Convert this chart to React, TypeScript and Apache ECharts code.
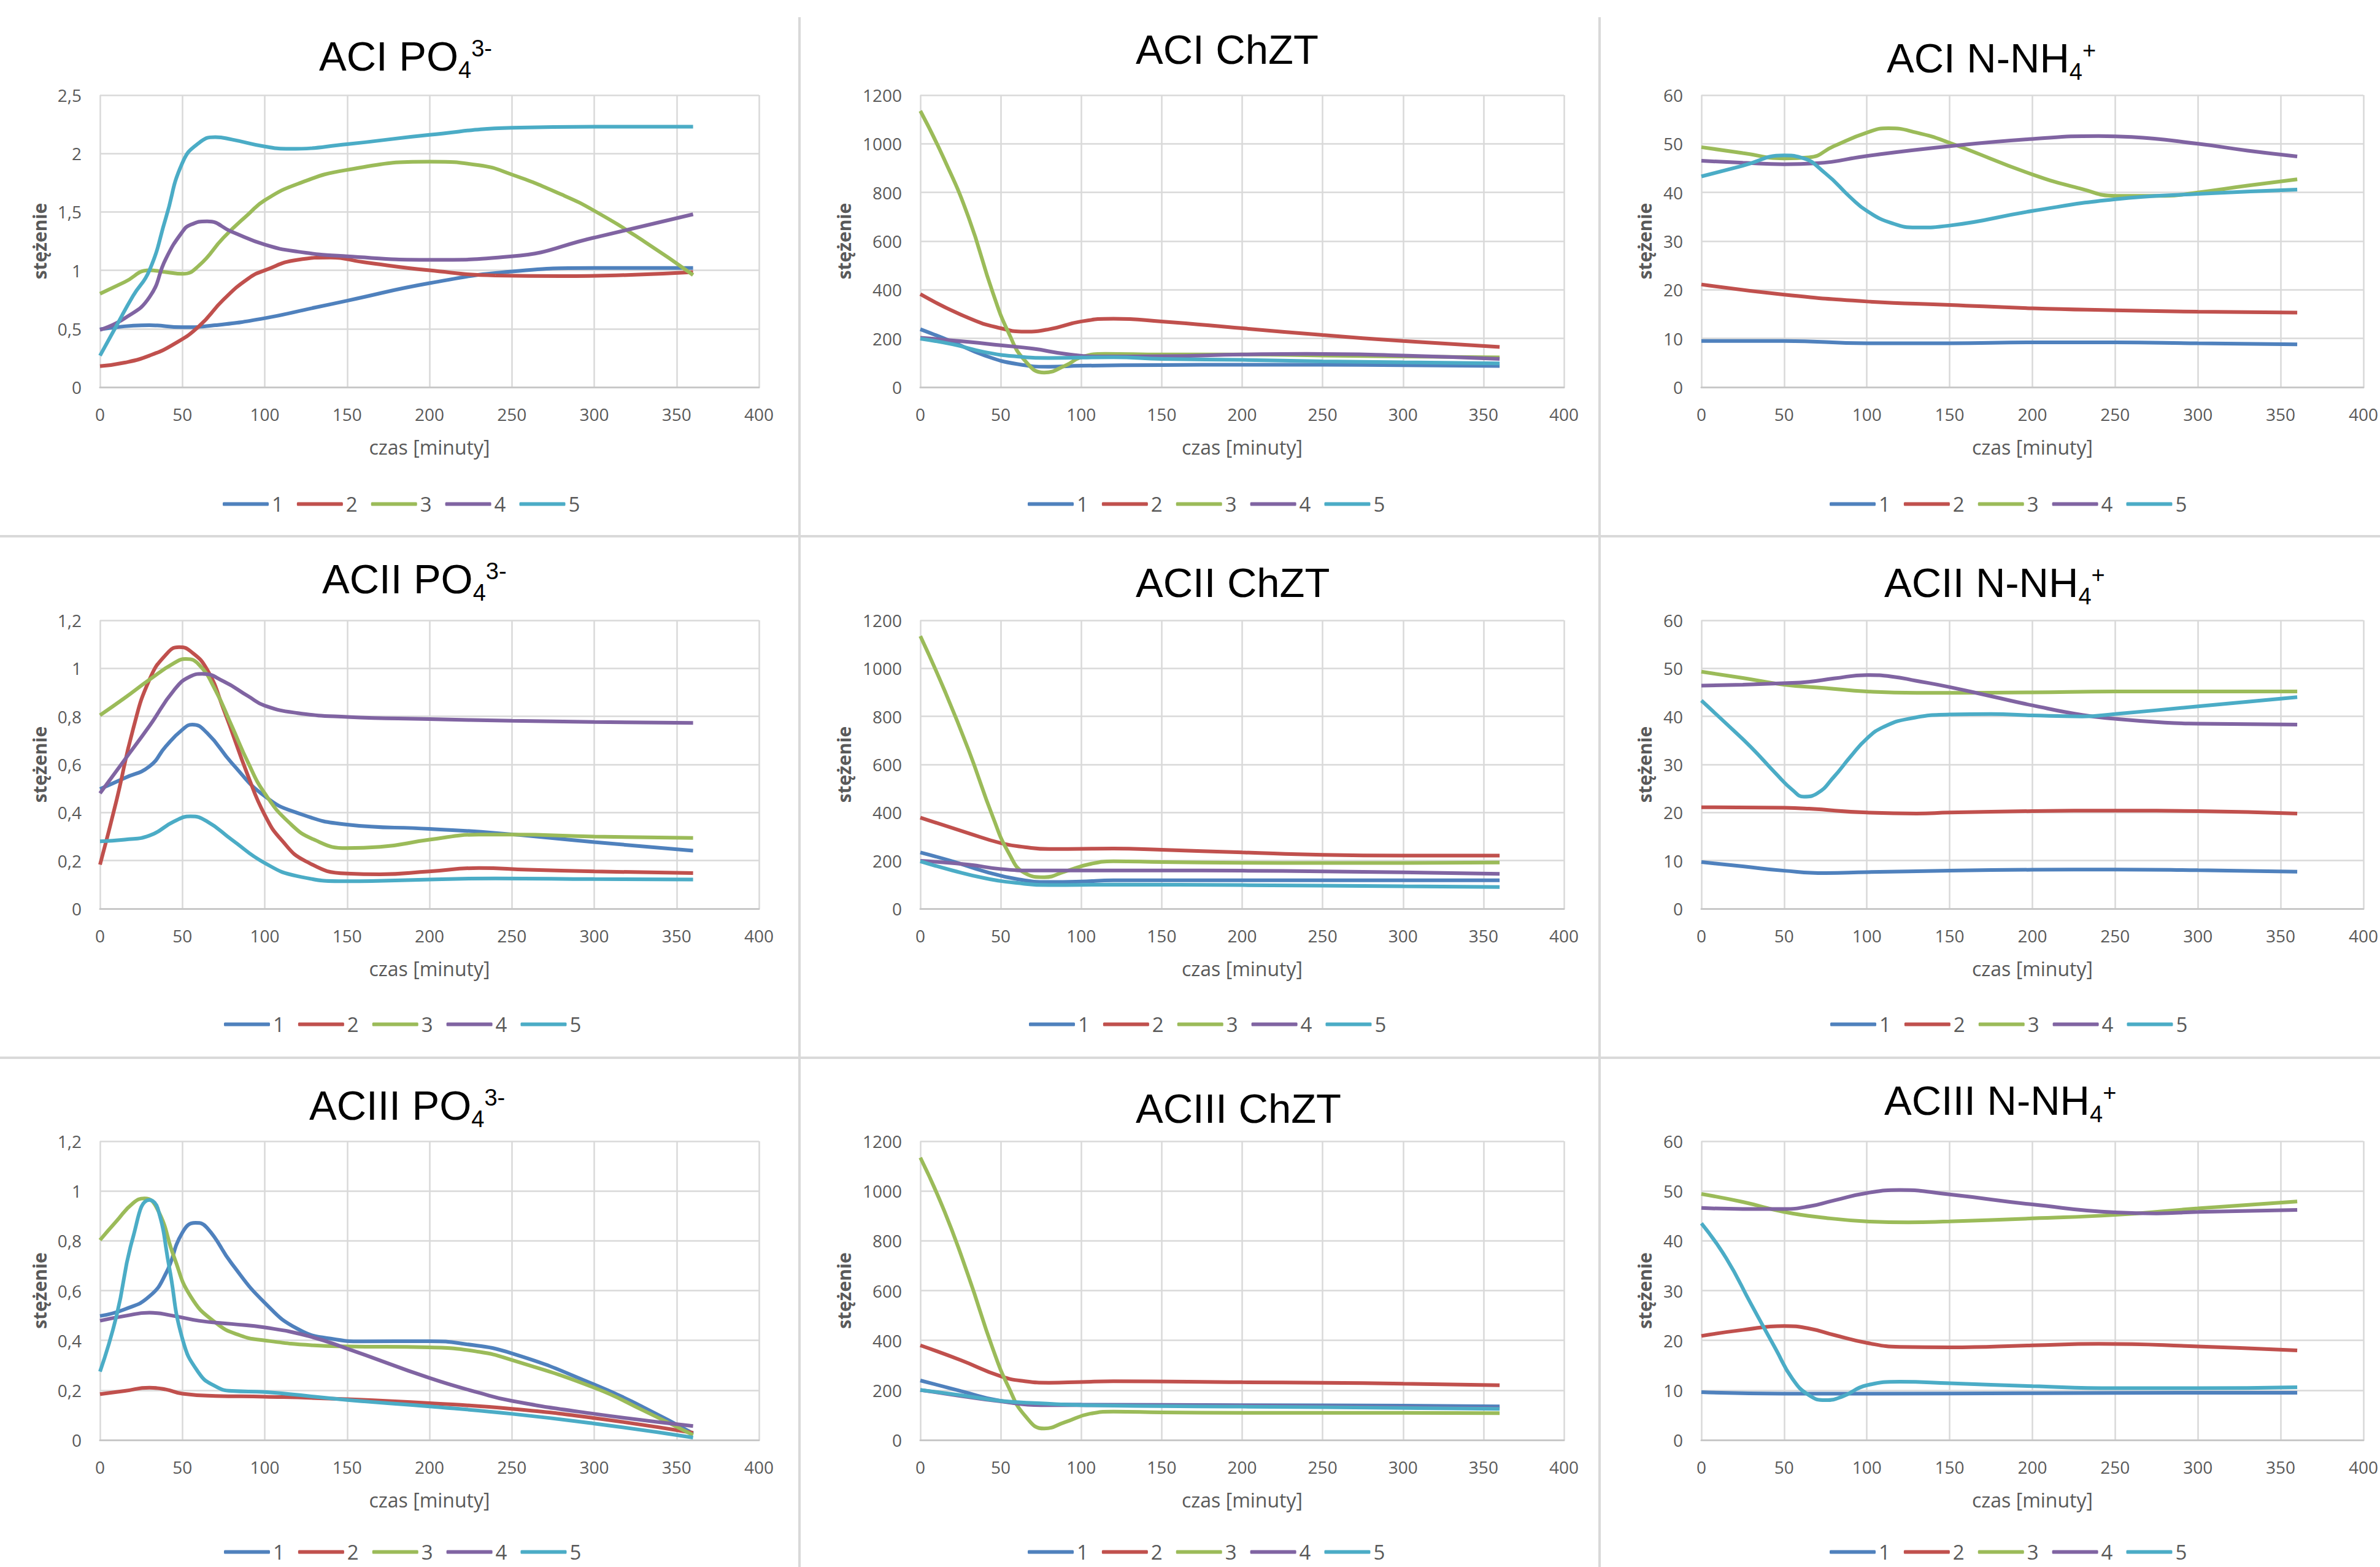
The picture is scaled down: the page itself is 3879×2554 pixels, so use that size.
import React, { useEffect, useRef } from 'react';
import * as echarts from 'echarts';

const W = 3879;
const H = 2554;
const FONT = '"Open Sans", sans-serif';
const TITLE_FONT = '"Liberation Sans", Arial, sans-serif';
const COLORS = ['#4F81BD', '#C0504D', '#9BBB59', '#8064A2', '#4BACC6'];
const SERIES_NAMES = ['1', '2', '3', '4', '5'];
const X_NAME = 'czas [minuty]';
const Y_NAME = 'stężenie';
const X_MIN = 0;
const X_MAX = 400;
const X_STEP = 50;

// ---------- ACI ----------
const ACI_PO4_1 = [[0, 0.495], [30, 0.53], [50, 0.513], [70, 0.53], [100, 0.59], [130, 0.68], [150, 0.74], [200, 0.89], [250, 0.99], [300, 1.02], [360, 1.02]];
const ACI_PO4_2 = [[0, 0.18], [15, 0.21], [30, 0.27], [45, 0.37], [60, 0.52], [75, 0.75], [90, 0.93], [100, 1.0], [120, 1.09], [140, 1.11], [160, 1.07], [200, 1.0], [240, 0.956], [280, 0.95], [320, 0.96], [360, 0.985]];
const ACI_PO4_3 = [[0, 0.8], [15, 0.9], [30, 1.0], [40, 0.985], [50, 0.97], [60, 1.04], [75, 1.28], [90, 1.48], [100, 1.6], [120, 1.74], [150, 1.86], [200, 1.93], [230, 1.9], [250, 1.82], [280, 1.65], [300, 1.51], [330, 1.25], [360, 0.96]];
const ACI_PO4_4 = [[0, 0.49], [15, 0.59], [30, 0.77], [40, 1.1], [50, 1.33], [55, 1.39], [65, 1.42], [80, 1.33], [100, 1.22], [120, 1.16], [150, 1.12], [200, 1.09], [250, 1.12], [300, 1.28], [360, 1.48]];
const ACI_PO4_5 = [[0, 0.27], [9, 0.5], [20, 0.78], [30, 1.0], [40, 1.45], [50, 1.92], [60, 2.09], [70, 2.14], [80, 2.12], [100, 2.06], [115, 2.04], [150, 2.08], [200, 2.16], [250, 2.22], [300, 2.23], [360, 2.23]];

const ACI_CHZT_1 = [[0, 238], [20, 186], [40, 130], [60, 95], [80, 84], [100, 88], [150, 91], [200, 92], [250, 92], [300, 90], [360, 87]];
const ACI_CHZT_2 = [[0, 382], [30, 284], [50, 242], [65, 228], [80, 238], [100, 270], [120, 281], [150, 270], [200, 242], [250, 214], [300, 190], [360, 165]];
const ACI_CHZT_3 = [[0, 1135], [15, 934], [30, 697], [45, 389], [55, 221], [65, 109], [77, 60], [90, 88], [100, 123], [115, 137], [150, 134], [200, 134], [250, 130], [300, 126], [360, 122]];
const ACI_CHZT_4 = [[0, 203], [30, 186], [50, 172], [70, 158], [90, 137], [110, 126], [150, 127], [200, 134], [240, 137], [300, 130], [360, 116]];
const ACI_CHZT_5 = [[0, 199], [20, 176], [40, 144], [60, 126], [80, 120], [120, 123], [150, 116], [200, 112], [250, 106], [300, 102], [360, 98]];

const ACI_NH4_1 = [[0, 9.5], [50, 9.5], [100, 9.0], [150, 9.0], [200, 9.2], [250, 9.2], [300, 9.0], [360, 8.8]];
const ACI_NH4_2 = [[0, 21.1], [50, 19.0], [100, 17.6], [150, 16.9], [200, 16.2], [250, 15.8], [300, 15.5], [360, 15.3]];
const ACI_NH4_3 = [[0, 49.3], [25, 48.1], [50, 47.0], [65, 47.2], [80, 49.5], [100, 52.3], [113, 53.2], [130, 52.3], [150, 50.2], [200, 43.7], [230, 40.7], [250, 39.3], [280, 39.3], [300, 40.0], [330, 41.4], [360, 42.7]];
const ACI_NH4_4 = [[0, 46.5], [25, 46.1], [50, 45.8], [70, 46.0], [100, 47.5], [150, 49.5], [200, 51.0], [240, 51.6], [260, 51.4], [300, 50.0], [330, 48.6], [360, 47.4]];
const ACI_NH4_5 = [[0, 43.3], [25, 45.5], [50, 47.6], [60, 47.2], [75, 43.9], [90, 39.0], [100, 36.2], [115, 33.7], [130, 32.8], [150, 33.2], [200, 36.2], [250, 38.6], [300, 39.7], [360, 40.6]];

// ---------- ACII ----------
const ACII_PO4_1 = [[0, 0.498], [15, 0.544], [30, 0.592], [40, 0.676], [50, 0.745], [56, 0.766], [65, 0.731], [80, 0.606], [100, 0.468], [120, 0.398], [150, 0.35], [200, 0.332], [240, 0.315], [300, 0.277], [360, 0.241]];
const ACII_PO4_2 = [[0, 0.183], [10, 0.45], [20, 0.745], [30, 0.953], [40, 1.057], [48, 1.088], [55, 1.071], [65, 0.995], [75, 0.83], [90, 0.55], [100, 0.39], [110, 0.287], [125, 0.197], [150, 0.146], [170, 0.143], [200, 0.155], [230, 0.169], [260, 0.162], [300, 0.155], [360, 0.148]];
const ACII_PO4_3 = [[0, 0.805], [15, 0.877], [30, 0.953], [45, 1.022], [52, 1.039], [60, 1.016], [70, 0.91], [80, 0.76], [90, 0.606], [100, 0.48], [115, 0.357], [130, 0.287], [150, 0.252], [170, 0.257], [200, 0.287], [230, 0.308], [250, 0.308], [300, 0.3], [360, 0.294]];
const ACII_PO4_4 = [[0, 0.48], [15, 0.62], [30, 0.76], [45, 0.91], [55, 0.967], [62, 0.977], [75, 0.946], [90, 0.884], [100, 0.845], [120, 0.814], [150, 0.798], [200, 0.789], [250, 0.782], [300, 0.777], [360, 0.773]];
const ACII_PO4_5 = [[0, 0.28], [15, 0.287], [30, 0.304], [45, 0.363], [55, 0.384], [65, 0.363], [80, 0.287], [100, 0.19], [120, 0.135], [150, 0.114], [200, 0.121], [240, 0.126], [300, 0.123], [360, 0.121]];

const ACII_CHZT_1 = [[0, 234], [20, 197], [40, 155], [60, 123], [80, 111], [100, 113], [120, 118], [200, 118], [300, 118], [360, 118]];
const ACII_CHZT_2 = [[0, 379], [30, 314], [50, 273], [65, 256], [80, 248], [100, 249], [120, 250], [150, 245], [200, 234], [250, 224], [300, 221], [360, 221]];
const ACII_CHZT_3 = [[0, 1134], [15, 909], [30, 660], [45, 383], [55, 231], [65, 148], [77, 131], [90, 155], [105, 185], [120, 197], [150, 194], [200, 191], [250, 190], [300, 190], [360, 192]];
const ACII_CHZT_4 = [[0, 199], [30, 183], [50, 165], [70, 159], [100, 159], [150, 159], [200, 158], [250, 155], [300, 151], [360, 145]];
const ACII_CHZT_5 = [[0, 197], [20, 159], [40, 127], [60, 107], [80, 98], [120, 100], [200, 98], [300, 93], [360, 90]];

const ACII_NH4_1 = [[0, 9.7], [25, 8.8], [50, 7.9], [75, 7.4], [100, 7.6], [150, 7.9], [200, 8.1], [250, 8.15], [300, 8.0], [360, 7.7]];
const ACII_NH4_2 = [[0, 21.1], [50, 21.0], [65, 20.8], [100, 20.0], [130, 19.8], [150, 20.0], [200, 20.3], [250, 20.4], [300, 20.3], [360, 19.8]];
const ACII_NH4_3 = [[0, 49.3], [25, 48.0], [50, 46.6], [75, 45.9], [100, 45.2], [130, 44.9], [150, 44.9], [200, 45.0], [250, 45.2], [300, 45.2], [360, 45.2]];
const ACII_NH4_4 = [[0, 46.4], [25, 46.6], [50, 46.9], [65, 47.2], [80, 47.9], [100, 48.6], [115, 48.3], [130, 47.4], [150, 46.1], [175, 44.2], [200, 42.3], [230, 40.3], [250, 39.5], [280, 38.7], [300, 38.5], [360, 38.3]];
const ACII_NH4_5 = [[0, 43.3], [15, 38.5], [30, 33.6], [45, 28.1], [55, 24.7], [62, 23.3], [70, 24.0], [80, 27.4], [90, 31.6], [100, 35.4], [110, 37.8], [125, 39.5], [150, 40.4], [175, 40.5], [200, 40.2], [230, 40.0], [250, 40.5], [300, 42.1], [360, 44.0]];

// ---------- ACIII ----------
const ACIII_PO4_1 = [[0, 0.498], [15, 0.525], [30, 0.577], [40, 0.669], [50, 0.833], [58, 0.872], [65, 0.852], [80, 0.708], [100, 0.551], [120, 0.446], [140, 0.407], [160, 0.396], [200, 0.397], [220, 0.387], [250, 0.348], [300, 0.223], [330, 0.131], [360, 0.026]];
const ACIII_PO4_2 = [[0, 0.184], [15, 0.197], [30, 0.21], [40, 0.203], [50, 0.186], [70, 0.177], [100, 0.174], [150, 0.164], [200, 0.148], [250, 0.125], [300, 0.088], [360, 0.029]];
const ACIII_PO4_3 = [[0, 0.803], [10, 0.879], [20, 0.951], [27, 0.97], [35, 0.925], [45, 0.734], [55, 0.577], [70, 0.472], [85, 0.42], [100, 0.4], [130, 0.38], [150, 0.376], [200, 0.372], [230, 0.354], [250, 0.321], [300, 0.21], [330, 0.118], [360, 0.02]];
const ACIII_PO4_4 = [[0, 0.479], [15, 0.498], [30, 0.511], [45, 0.498], [60, 0.479], [80, 0.466], [100, 0.452], [125, 0.42], [150, 0.367], [200, 0.249], [230, 0.19], [250, 0.157], [300, 0.105], [360, 0.056]];
const ACIII_PO4_5 = [[0, 0.275], [10, 0.498], [20, 0.813], [30, 0.964], [35, 0.931], [42, 0.695], [50, 0.407], [60, 0.269], [70, 0.216], [80, 0.197], [100, 0.193], [115, 0.184], [150, 0.161], [200, 0.135], [250, 0.105], [300, 0.066], [360, 0.01]];

const ACIII_CHZT_1 = [[0, 239], [25, 197], [50, 157], [75, 144], [100, 142], [200, 140], [300, 138], [360, 135]];
const ACIII_CHZT_2 = [[0, 380], [25, 321], [50, 256], [65, 236], [80, 230], [100, 233], [120, 236], [200, 232], [250, 230], [300, 226], [360, 220]];
const ACIII_CHZT_3 = [[0, 1134], [15, 918], [30, 656], [45, 367], [55, 210], [65, 98], [77, 46], [90, 72], [105, 105], [120, 114], [150, 111], [200, 109], [250, 109], [300, 109], [360, 108]];
const ACIII_CHZT_4 = [[0, 201], [25, 177], [50, 155], [75, 140], [100, 140], [200, 138], [360, 127]];
const ACIII_CHZT_5 = [[0, 201], [25, 180], [50, 157], [75, 147], [100, 140], [200, 134], [300, 129], [360, 125]];

const ACIII_NH4_1 = [[0, 9.6], [50, 9.3], [100, 9.3], [200, 9.4], [300, 9.5], [360, 9.5]];
const ACIII_NH4_2 = [[0, 20.9], [25, 22.1], [50, 22.9], [65, 22.4], [80, 21.1], [100, 19.5], [120, 18.7], [150, 18.6], [200, 19.0], [240, 19.3], [300, 18.8], [360, 18.0]];
const ACIII_NH4_3 = [[0, 49.4], [25, 47.8], [50, 45.8], [75, 44.6], [100, 43.9], [125, 43.7], [150, 43.9], [200, 44.5], [250, 45.2], [300, 46.5], [360, 47.9]];
const ACIII_NH4_4 = [[0, 46.6], [25, 46.4], [50, 46.4], [65, 46.9], [80, 48.1], [100, 49.6], [120, 50.2], [150, 49.3], [200, 47.3], [250, 45.7], [275, 45.5], [300, 45.8], [360, 46.2]];
const ACIII_NH4_5 = [[0, 43.5], [15, 36.5], [30, 27.3], [45, 18.2], [55, 12.3], [65, 9.0], [75, 8.0], [85, 8.7], [100, 11.0], [120, 11.7], [150, 11.4], [200, 10.8], [250, 10.4], [300, 10.4], [360, 10.6]];

// Titles: [main, subscript, superscript]
const TITLES = [
  ['ACI PO', '4', '3-'], ['ACI ChZT', '', ''], ['ACI N-NH', '4', '+'],
  ['ACII PO', '4', '3-'], ['ACII ChZT', '', ''], ['ACII N-NH', '4', '+'],
  ['ACIII PO', '4', '3-'], ['ACIII ChZT', '', ''], ['ACIII N-NH', '4', '+'],
];
const Y_MAX = [2.5, 1200, 60, 1.2, 1200, 60, 1.2, 1200, 60];
const Y_STEP = [0.5, 200, 10, 0.2, 200, 10, 0.2, 200, 10];
const PANEL_DATA = [
  [ACI_PO4_1, ACI_PO4_2, ACI_PO4_3, ACI_PO4_4, ACI_PO4_5],
  [ACI_CHZT_1, ACI_CHZT_2, ACI_CHZT_3, ACI_CHZT_4, ACI_CHZT_5],
  [ACI_NH4_1, ACI_NH4_2, ACI_NH4_3, ACI_NH4_4, ACI_NH4_5],
  [ACII_PO4_1, ACII_PO4_2, ACII_PO4_3, ACII_PO4_4, ACII_PO4_5],
  [ACII_CHZT_1, ACII_CHZT_2, ACII_CHZT_3, ACII_CHZT_4, ACII_CHZT_5],
  [ACII_NH4_1, ACII_NH4_2, ACII_NH4_3, ACII_NH4_4, ACII_NH4_5],
  [ACIII_PO4_1, ACIII_PO4_2, ACIII_PO4_3, ACIII_PO4_4, ACIII_PO4_5],
  [ACIII_CHZT_1, ACIII_CHZT_2, ACIII_CHZT_3, ACIII_CHZT_4, ACIII_CHZT_5],
  [ACIII_NH4_1, ACIII_NH4_2, ACIII_NH4_3, ACIII_NH4_4, ACIII_NH4_5],
];

// ---------- layout ----------
const COL_L = [163, 1500, 2773];
const COL_R = [1237, 2549, 3855];
const ROW_T = [155, 1011, 1860];
const ROW_B = [631, 1481, 2347];
const Y_NAME_GAP = [84, 110, 78];
const TITLE_POS = [
  [520, 115], [1851, 104], [3075, 118],
  [525, 967], [1851, 973], [3071, 973],
  [504, 1825], [1851, 1830], [3071, 1817],
];
const LEGEND_LEFT = [
  [363, 1675, 2982],
  [365, 1677, 2983],
  [365, 1675, 2982],
];
const LEGEND_CY = [822, 1670, 2530];

const fmtY = (v: number) => String(+v.toFixed(2)).replace('.', ',');

function buildOption() {
  const grid: any[] = [];
  const xAxis: any[] = [];
  const yAxis: any[] = [];
  const series: any[] = [];
  const legend: any[] = [];
  const graphic: any[] = [];

  const labelStyle = { fontFamily: FONT, fontSize: 28, color: '#595959' };

  for (let i = 0; i < 9; i++) {
    const r = Math.floor(i / 3);
    const c = i % 3;
    grid.push({
      left: COL_L[c],
      top: ROW_T[r],
      width: COL_R[c] - COL_L[c],
      height: ROW_B[r] - ROW_T[r],
      containLabel: false,
    });
    xAxis.push({
      gridIndex: i,
      type: 'value',
      min: X_MIN,
      max: X_MAX,
      interval: X_STEP,
      name: X_NAME,
      nameLocation: 'middle',
      nameGap: 81,
      nameTextStyle: { fontFamily: FONT, fontSize: 32, color: '#595959' },
      axisLine: { show: true, lineStyle: { color: '#c8c8c8', width: 3 } },
      axisTick: { show: false },
      axisLabel: { ...labelStyle, margin: 30 },
      splitLine: { show: true, lineStyle: { color: '#d9d9d9', width: 2.5 } },
    });
    yAxis.push({
      gridIndex: i,
      type: 'value',
      min: 0,
      max: Y_MAX[i],
      interval: Y_STEP[i],
      name: Y_NAME,
      nameLocation: 'middle',
      nameGap: Y_NAME_GAP[c],
      nameTextStyle: { fontFamily: FONT, fontSize: 30, fontWeight: 'bold', color: '#595959' },
      axisLine: { show: false },
      axisTick: { show: false },
      axisLabel: { ...labelStyle, margin: 30, formatter: fmtY },
      splitLine: { show: true, lineStyle: { color: '#d9d9d9', width: 2.5 } },
    });
    PANEL_DATA[i].forEach((d, k) => {
      series.push({
        type: 'line',
        name: SERIES_NAMES[k],
        xAxisIndex: i,
        yAxisIndex: i,
        data: d,
        smooth: 0.5,
        symbol: 'none',
        showSymbol: false,
        lineStyle: { color: COLORS[k], width: 6 },
        itemStyle: { color: COLORS[k] },
        z: 2 + k,
      });
    });
    legend.push({
      left: LEGEND_LEFT[r][c],
      top: LEGEND_CY[r] - 17,
      padding: 0,
      orient: 'horizontal',
      data: SERIES_NAMES,
      icon: 'roundRect',
      itemWidth: 75,
      itemHeight: 6,
      itemGap: 22,
      selectedMode: false,
      textStyle: { fontFamily: FONT, fontSize: 33, color: '#595959' },
    });
    const [main, sub, sup] = TITLES[i];
    const [tx, tb] = TITLE_POS[i];
    let text = `{m|${main}}`;
    if (sub) text += `{b|${sub}}`;
    if (sup) text += `{p|${sup}}`;
    graphic.push({
      type: 'text',
      x: tx,
      y: tb - 73.2,
      z: 100,
      style: {
        text,
        align: 'left',
        verticalAlign: 'top',
        fill: '#000000',
        font: `67px ${TITLE_FONT}`,
        rich: {
          m: { fontSize: 67, fontFamily: TITLE_FONT, lineHeight: 100, fill: '#000000', color: '#000000' },
          b: { fontSize: 38, fontFamily: TITLE_FONT, padding: [44, 0, 0, 0], fill: '#000000', color: '#000000' },
          p: { fontSize: 38, fontFamily: TITLE_FONT, padding: [0, 0, 26, 0], fill: '#000000', color: '#000000' },
        },
      },
    });
  }

  // panel separators
  const sep = { stroke: '#d9d9d9', lineWidth: 4 };
  graphic.push({ type: 'line', shape: { x1: 1303, y1: 28, x2: 1303, y2: H }, style: sep, z: 1 });
  graphic.push({ type: 'line', shape: { x1: 2607, y1: 28, x2: 2607, y2: H }, style: sep, z: 1 });
  graphic.push({ type: 'line', shape: { x1: 0, y1: 874, x2: W, y2: 874 }, style: sep, z: 1 });
  graphic.push({ type: 'line', shape: { x1: 0, y1: 1724, x2: W, y2: 1724 }, style: sep, z: 1 });

  return {
    animation: false,
    backgroundColor: '#ffffff',
    textStyle: { fontFamily: FONT },
    grid,
    xAxis,
    yAxis,
    series,
    legend,
    graphic,
  };
}

export default function App() {
  const ref = useRef<HTMLDivElement>(null);
  useEffect(() => {
    document.body.style.margin = '0';
    const chart = echarts.init(ref.current as HTMLDivElement, null, { renderer: 'svg', width: W, height: H });
    chart.setOption(buildOption() as any);
    return () => chart.dispose();
  }, []);
  return <div ref={ref} style={{ width: W, height: H, background: '#ffffff' }} />;
}
